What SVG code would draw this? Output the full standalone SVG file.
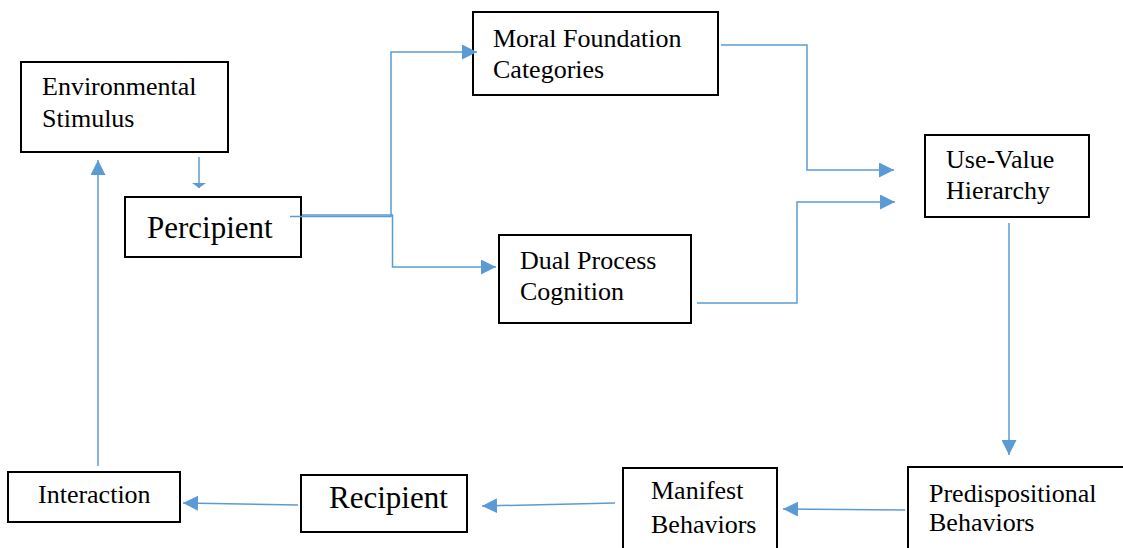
<svg xmlns="http://www.w3.org/2000/svg" width="1123" height="548" viewBox="0 0 1123 548">
  <style>
    .box { fill: #ffffff; stroke: #000000; stroke-width: 2; }
    .lbl { font-family: "Liberation Serif", "Times New Roman", serif; font-size: 26px; fill: #000000; }
    .big { font-size: 31px; }
    .conn { fill: none; stroke: #5B9BD5; stroke-width: 1.5; }
  </style>
  <defs>
    <marker id="arrow" markerUnits="userSpaceOnUse" markerWidth="16" markerHeight="15" refX="15" refY="7.5" orient="auto">
      <path d="M0,0 L15,7.5 L0,15 z" fill="#5B9BD5"/>
    </marker>
    <marker id="arrowSmall" markerUnits="userSpaceOnUse" markerWidth="6" markerHeight="14" refX="5" refY="7" orient="auto">
      <path d="M0,0 L5,7 L0,14 z" fill="#5B9BD5"/>
    </marker>
  </defs>

  <rect width="1123" height="548" fill="#ffffff"/>

  <g id="environmental-stimulus">
    <rect class="box" x="21" y="62" width="207" height="90"/>
    <text class="lbl" x="42" y="95">Environmental</text>
    <text class="lbl" x="42" y="127">Stimulus</text>
  </g>

  <g id="percipient">
    <rect class="box" x="125" y="197" width="176" height="60"/>
    <text class="lbl big" x="147" y="238">Percipient</text>
  </g>

  <g id="moral-foundation">
    <rect class="box" x="473" y="12" width="245" height="83"/>
    <text class="lbl" x="493" y="47">Moral Foundation</text>
    <text class="lbl" x="493" y="78">Categories</text>
  </g>

  <g id="dual-process">
    <rect class="box" x="499" y="235" width="192" height="88"/>
    <text class="lbl" x="520" y="269">Dual Process</text>
    <text class="lbl" x="520" y="300">Cognition</text>
  </g>

  <g id="use-value">
    <rect class="box" x="925" y="135" width="164" height="82"/>
    <text class="lbl" x="946" y="168">Use-Value</text>
    <text class="lbl" x="946" y="199">Hierarchy</text>
  </g>

  <g id="predispositional">
    <rect class="box" x="908" y="467" width="230" height="100"/>
    <text class="lbl" x="929" y="502">Predispositional</text>
    <text class="lbl" x="929" y="531">Behaviors</text>
  </g>

  <g id="manifest">
    <rect class="box" x="623" y="468" width="154" height="100"/>
    <text class="lbl" x="651" y="499">Manifest</text>
    <text class="lbl" x="651" y="533">Behaviors</text>
  </g>

  <g id="recipient">
    <rect class="box" x="301" y="475" width="166" height="57"/>
    <text class="lbl big" x="329" y="508">Recipient</text>
  </g>

  <g id="interaction">
    <rect class="box" x="8" y="472" width="172" height="50"/>
    <text class="lbl" x="38" y="503">Interaction</text>
  </g>

  <g id="connectors">
    <!-- Environmental Stimulus to Percipient -->
    <path class="conn" d="M199,157 V188" marker-end="url(#arrowSmall)"/>
    <!-- Interaction back up to Environmental Stimulus -->
    <path class="conn" d="M98,466 V160" marker-end="url(#arrow)"/>
    <!-- Percipient to Moral Foundation Categories -->
    <path class="conn" d="M290,216.5 H391 V52 H477" marker-end="url(#arrow)"/>
    <!-- Percipient to Dual Process Cognition -->
    <path class="conn" d="M302,215 H392.5 V267 H496" marker-end="url(#arrow)"/>
    <!-- Moral Foundation Categories to Use-Value Hierarchy -->
    <path class="conn" d="M721,45 H807 V170 H894" marker-end="url(#arrow)"/>
    <!-- Dual Process Cognition to Use-Value Hierarchy -->
    <path class="conn" d="M697,303 H797 V202 H895" marker-end="url(#arrow)"/>
    <!-- Use-Value Hierarchy to Predispositional Behaviors -->
    <path class="conn" d="M1009,223 V455" marker-end="url(#arrow)"/>
    <!-- Predispositional Behaviors to Manifest Behaviors -->
    <path class="conn" d="M905,510 L783,509" marker-end="url(#arrow)"/>
    <!-- Manifest Behaviors to Recipient -->
    <path class="conn" d="M615,503 L482,506" marker-end="url(#arrow)"/>
    <!-- Recipient to Interaction -->
    <path class="conn" d="M298,505 L183,503" marker-end="url(#arrow)"/>
  </g>
</svg>
